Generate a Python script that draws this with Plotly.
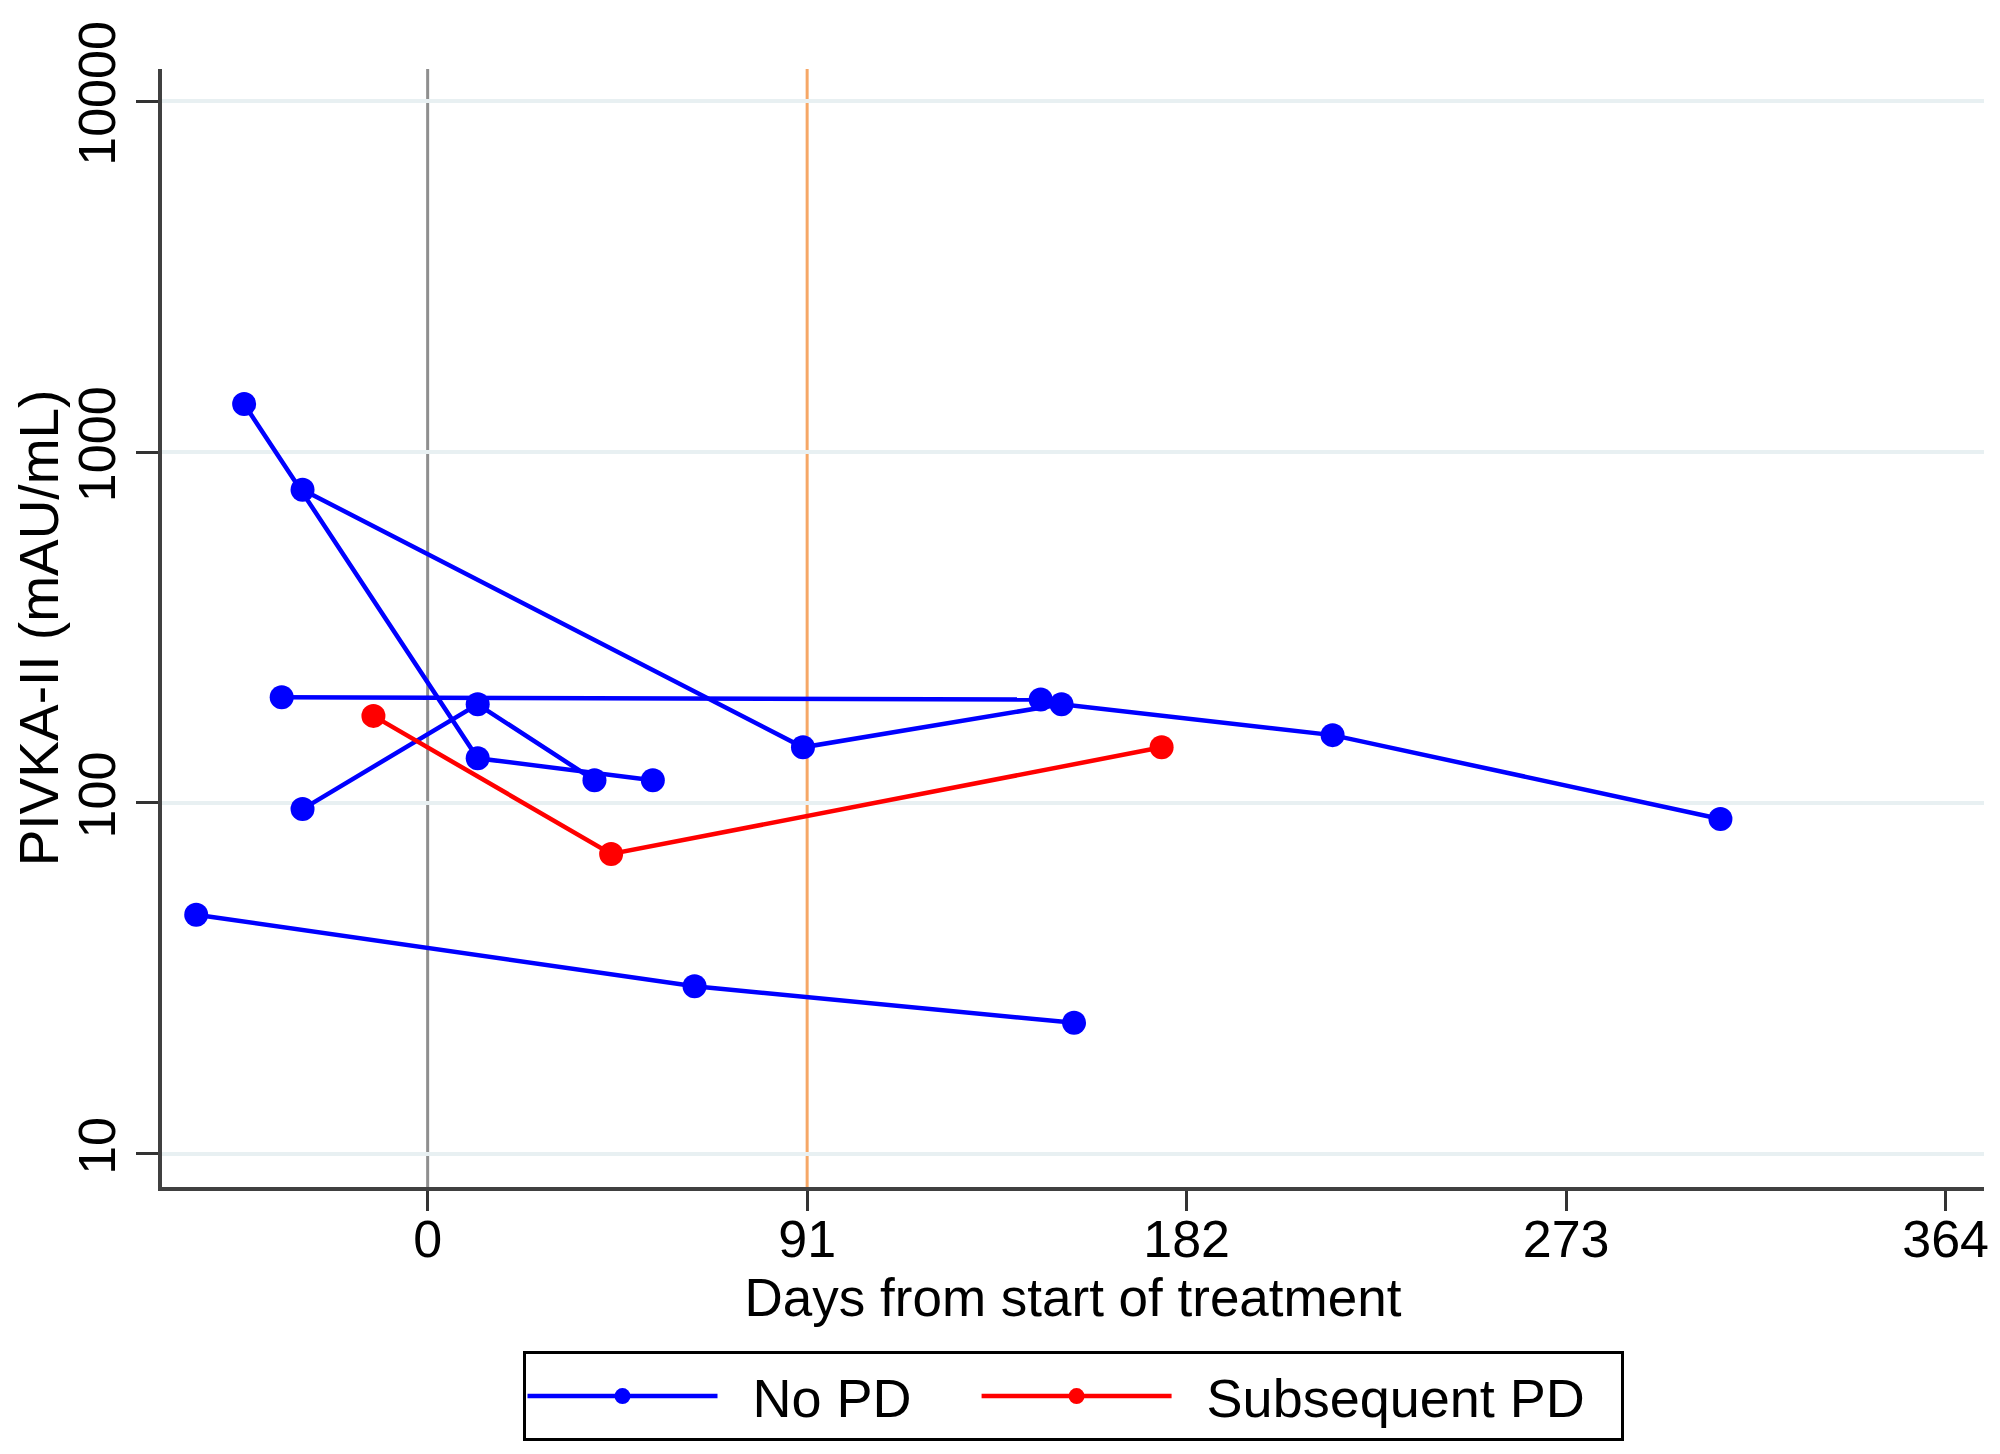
import plotly.graph_objects as go

# PIVKA-II over time, one connected line per patient
p1_days = [-44, 12, 54]
p1_vals = [1370, 134, 116]

p2_days = [-30, 90, 152, 217, 310]
p2_vals = [781, 144, 191, 156, 90]

p3_days = [-35, 147]
p3_vals = [200, 197]

p4_days = [-30, 12, 40]
p4_vals = [96, 191, 116]

p5_days = [-55.5, 64, 155]
p5_vals = [48, 30, 23.6]

# subsequent PD
p6_days = [-13, 44, 176]
p6_vals = [177, 71.5, 144]

no_pd = [(p1_days, p1_vals), (p2_days, p2_vals), (p3_days, p3_vals),
         (p4_days, p4_vals), (p5_days, p5_vals)]
sub_pd = [(p6_days, p6_vals)]

x_ticks = [0, 91, 182, 273, 364]
y_ticks = [10, 100, 1000, 10000]
ref_days = [0, 91]
ref_colors = ['#8f8f8f', '#f6a766']

FONT = 'Liberation Sans, Arial, sans-serif'
NB = '\u00a0'

fig = go.Figure()


def add_group(patients, color, name):
    for i, (d, v) in enumerate(patients):
        fig.add_trace(go.Scatter(
            x=d, y=v, mode='lines+markers', name=name,
            legendgroup=name, showlegend=(i == 0),
            line=dict(color=color, width=4.5),
            marker=dict(color=color, size=24),
        ))


add_group(no_pd, '#0000ff', NB * 2 + 'No PD' + NB * 4)
add_group(sub_pd, '#ff0000', NB * 2 + 'Subsequent PD' + NB * 2)

# reference lines at start of treatment and 3 months
for d, c in zip(ref_days, ref_colors):
    fig.add_shape(type='line', xref='x', yref='paper', x0=d, x1=d, y0=0, y1=1,
                  line=dict(color=c, width=3), layer='below')

fig.update_layout(
    width=2000, height=1454,
    margin=dict(l=154, r=24, t=61, b=275, autoexpand=False),
    paper_bgcolor='white', plot_bgcolor='white',
    font=dict(family=FONT, size=52, color='black'),
    showlegend=True,
    legend=dict(orientation='h', x=0.5, xanchor='center',
                yref='container', y=0.076, yanchor='top',
                bordercolor='black', borderwidth=3, bgcolor='white',
                font=dict(size=54), itemwidth=190, tracegroupgap=0),
)

fig.update_xaxes(
    range=[-63.7, 373.2], tickvals=x_ticks, ticks='outside', ticklen=20,
    tickwidth=3, tickcolor='#333333', showline=True, linecolor='#404040',
    linewidth=4, showgrid=False, zeroline=False, automargin=False,
    ticklabelstandoff=-16,
    title=dict(text='Days from start of treatment', standoff=0,
               font=dict(size=53)),
)

fig.update_yaxes(
    type='log', range=[0.905, 4.092], tickvals=y_ticks,
    ticktext=[str(t) for t in y_ticks], tickangle=-90,
    ticks='outside', ticklen=22, tickwidth=3, tickcolor='#333333',
    showline=True, linecolor='#404040', linewidth=4,
    showgrid=True, gridcolor='#e8f0f2', gridwidth=4, zeroline=False,
    automargin=False,
    title=dict(text='PIVKA-II (mAU/mL)', standoff=12, font=dict(size=55)),
)

fig.write_html('out.html')
